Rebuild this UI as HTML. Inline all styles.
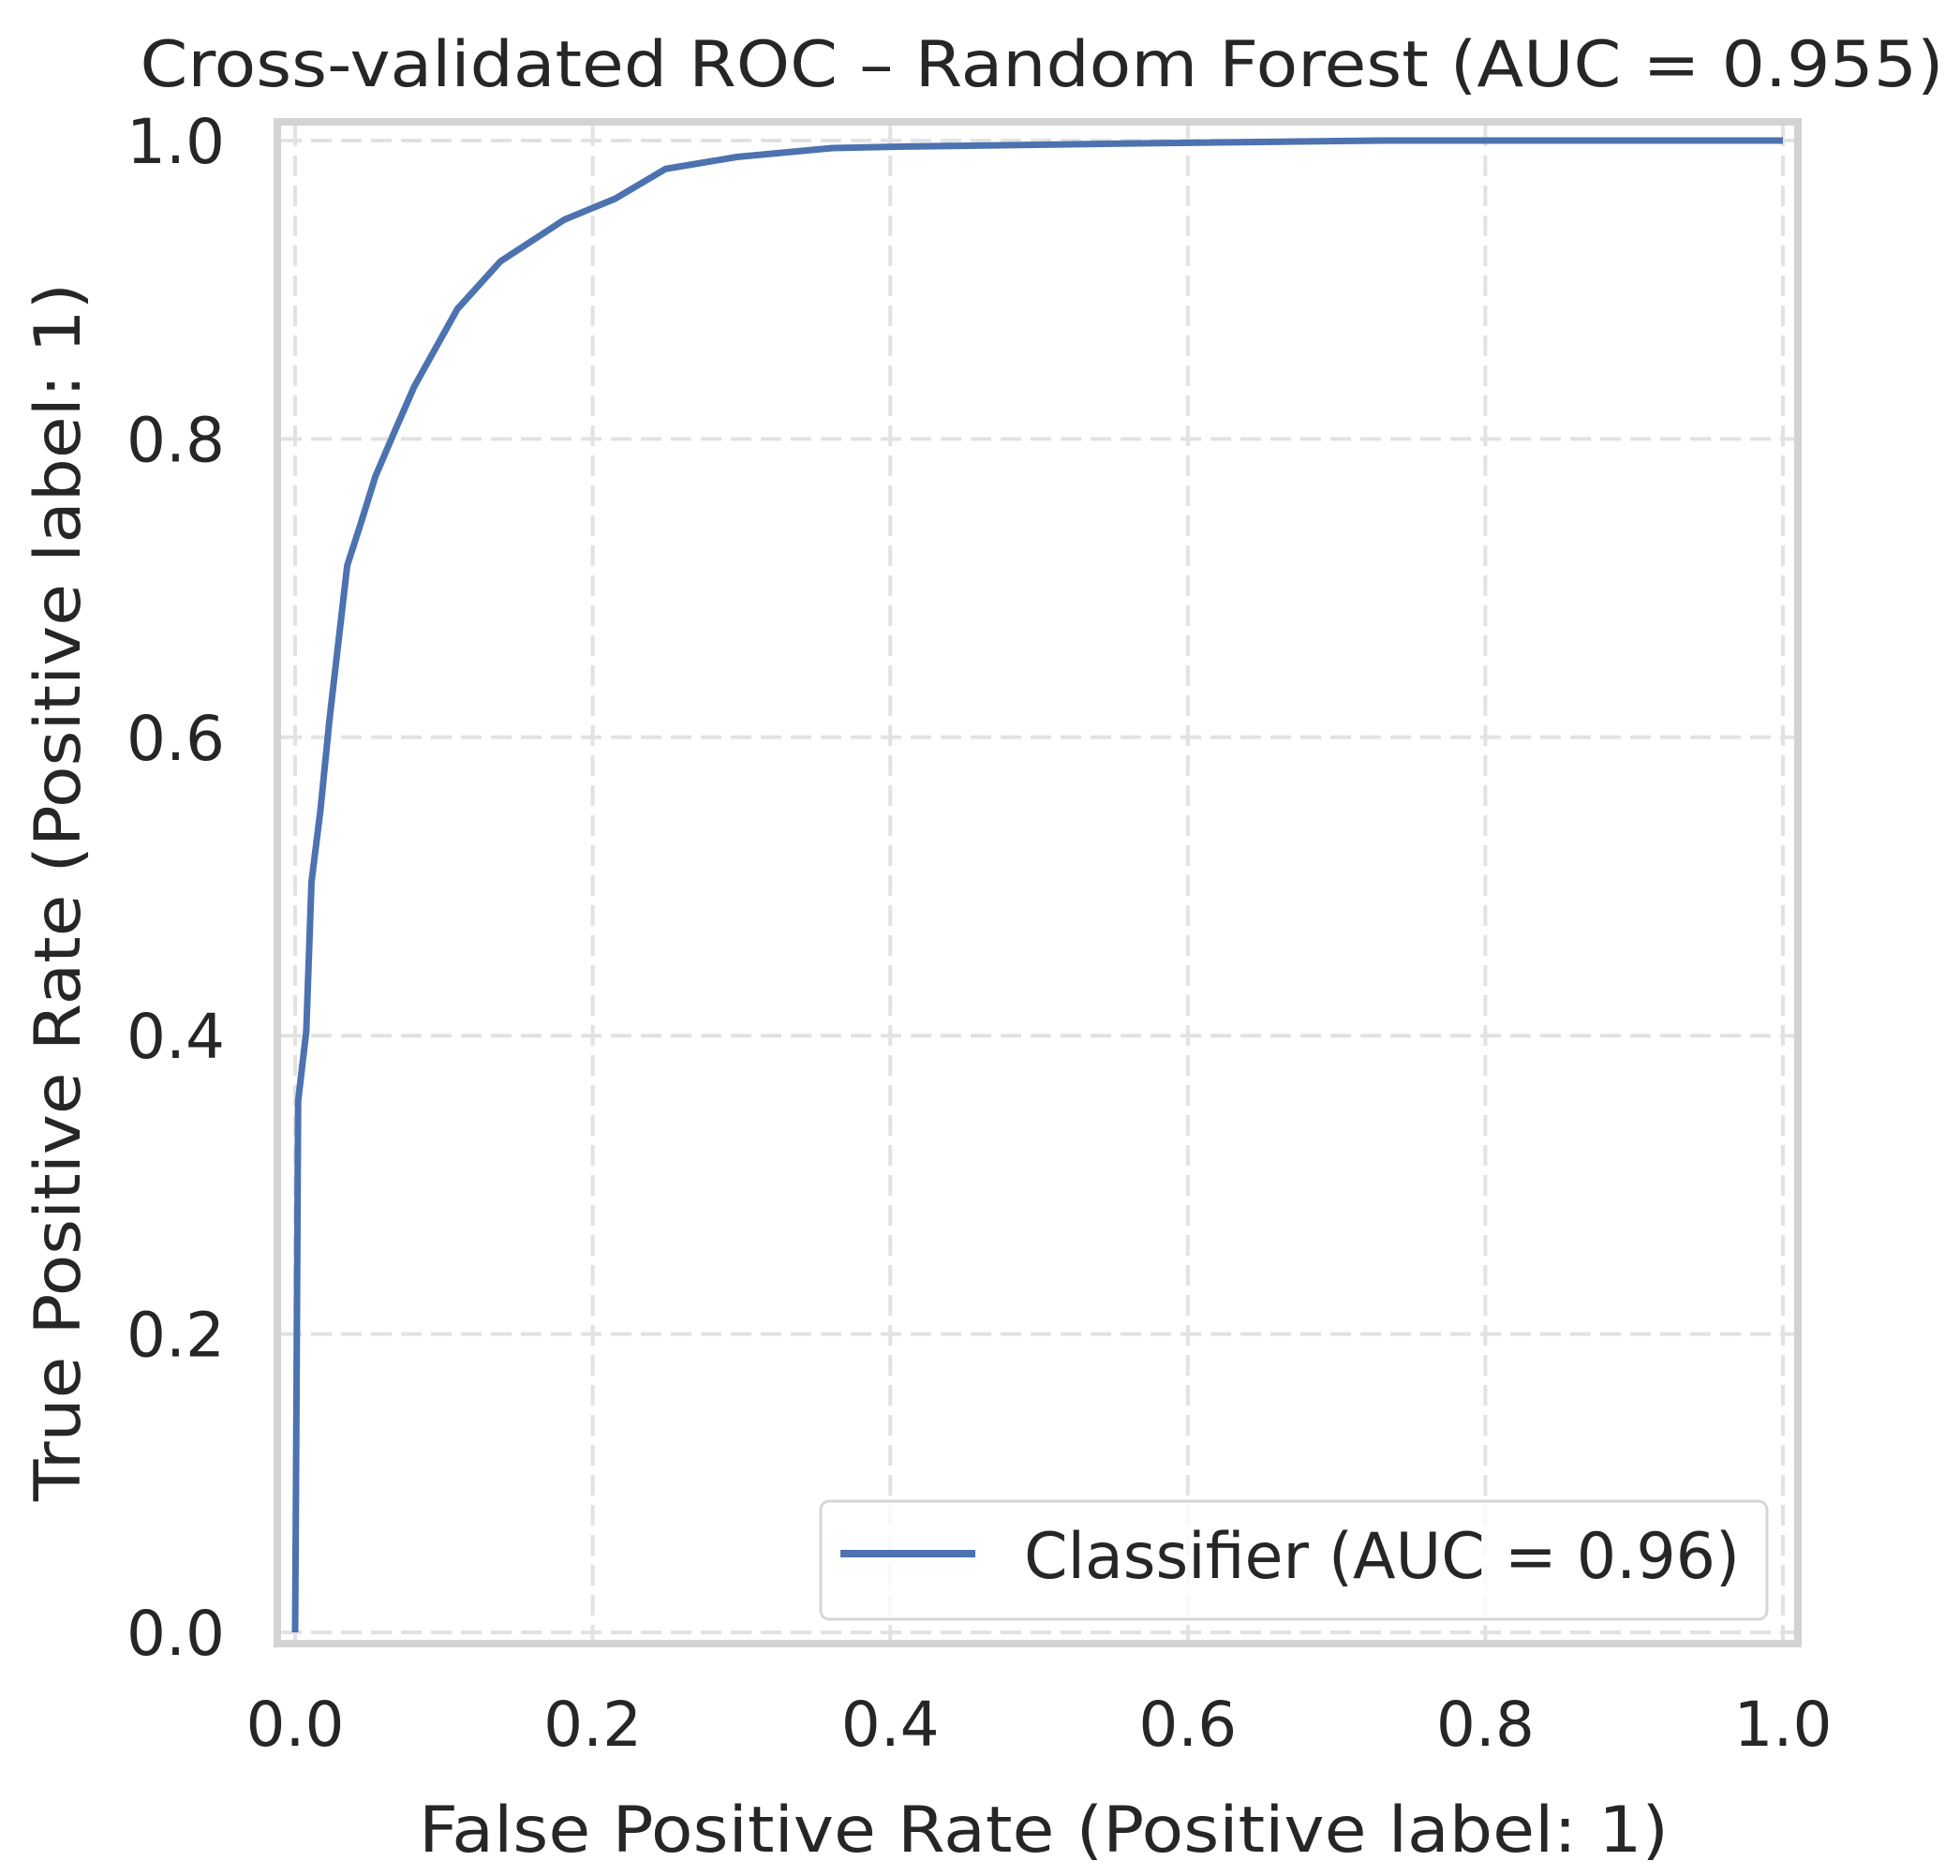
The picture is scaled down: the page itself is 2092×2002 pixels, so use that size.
<!DOCTYPE html>
<html><head><meta charset="utf-8"><style>
html,body{margin:0;padding:0;background:#fff;}
svg{display:block;}
text{font-family:"DejaVu Sans","Liberation Sans",sans-serif;fill:#262626;}
</style></head><body>
<svg id="chart" width="2092" height="2002" viewBox="0 0 2092 2002" xmlns="http://www.w3.org/2000/svg">
<rect x="0" y="0" width="2092" height="2002" fill="#fff"/>
<g id="grid"></g>
<g id="series"></g>
<rect x="296" y="130" width="1623" height="1624" fill="none" stroke="#d3d3d3" stroke-width="8"/>
<g id="ticks"></g>
<text x="1112" y="92" font-size="68" text-anchor="middle" textLength="1925" lengthAdjust="spacingAndGlyphs">Cross-validated ROC – Random Forest (AUC = 0.955)</text>
<text x="1114" y="1976" font-size="68" text-anchor="middle" textLength="1334" lengthAdjust="spacingAndGlyphs">False Positive Rate (Positive label: 1)</text>
<text transform="translate(85,952) rotate(-90)" x="0" y="0" font-size="68" text-anchor="middle" textLength="1300" lengthAdjust="spacingAndGlyphs">True Positive Rate (Positive label: 1)</text>
<g>
<rect x="876" y="1602" width="1010" height="126" rx="9" fill="#fff" fill-opacity="0.8" stroke="#d6d6d6" stroke-width="3"/>
<line x1="897" y1="1658" x2="1041" y2="1658" stroke="#4c72b0" stroke-width="8"/>
<text x="1093" y="1684" font-size="68" textLength="764" lengthAdjust="spacingAndGlyphs">Classifier (AUC = 0.96)</text>
</g>
</svg>
<script>
const fprValues=[0,0.001,0.002,0.0075,0.011,0.017,0.023,0.029,0.035,0.044,0.054,0.066,0.080,0.109,0.138,0.181,0.215,0.249,0.297,0.361,0.41,0.56,0.73,1.0];
const tprValues=[0,0.17,0.356,0.403,0.503,0.551,0.611,0.663,0.715,0.743,0.775,0.803,0.835,0.887,0.919,0.947,0.961,0.981,0.989,0.995,0.996,0.998,1.0,1.0];
const xTicks=[0,0.2,0.4,0.6,0.8,1.0];
const yTicks=[0,0.2,0.4,0.6,0.8,1.0];
const xTickLabels=["0.0","0.2","0.4","0.6","0.8","1.0"];
const yTickLabels=["0.0","0.2","0.4","0.6","0.8","1.0"];
const NS="http://www.w3.org/2000/svg";
function sx(v){return 315+v*1588;}
function sy(v){return 1742-v*1592;}
const grid=document.getElementById('grid'),ticks=document.getElementById('ticks'),series=document.getElementById('series');
xTicks.forEach((t,i)=>{
  const l=document.createElementNS(NS,'line');
  l.setAttribute('x1',sx(t));l.setAttribute('x2',sx(t));l.setAttribute('y1',134);l.setAttribute('y2',1750);
  l.setAttribute('stroke','#e2e2e2');l.setAttribute('stroke-width','4');l.setAttribute('stroke-dasharray','22,10');
  
  
  grid.appendChild(l);
  const tx=document.createElementNS(NS,'text');
  tx.setAttribute('x',sx(t));tx.setAttribute('y',1863);tx.setAttribute('font-size','66');tx.setAttribute('text-anchor','middle');
  tx.textContent=xTickLabels[i];
  
  
  ticks.appendChild(tx);
});
yTicks.forEach((t,i)=>{
  const l=document.createElementNS(NS,'line');
  l.setAttribute('y1',sy(t));l.setAttribute('y2',sy(t));l.setAttribute('x1',300);l.setAttribute('x2',1915);
  l.setAttribute('stroke','#e2e2e2');l.setAttribute('stroke-width','4');l.setAttribute('stroke-dasharray','22,10');
  
  
  grid.appendChild(l);
  const tx=document.createElementNS(NS,'text');
  tx.setAttribute('x',240);tx.setAttribute('y',sy(t)+24);tx.setAttribute('font-size','66');tx.setAttribute('text-anchor','end');
  tx.textContent=yTickLabels[i];
  
  
  ticks.appendChild(tx);
});
const p=document.createElementNS(NS,'polyline');
p.setAttribute('points',fprValues.map((f,i)=>sx(f)+','+sy(tprValues[i])).join(' '));
p.setAttribute('fill','none');p.setAttribute('stroke','#4c72b0');p.setAttribute('stroke-width','7');p.setAttribute('stroke-linejoin','round');


series.appendChild(p);
</script>
</body></html>
